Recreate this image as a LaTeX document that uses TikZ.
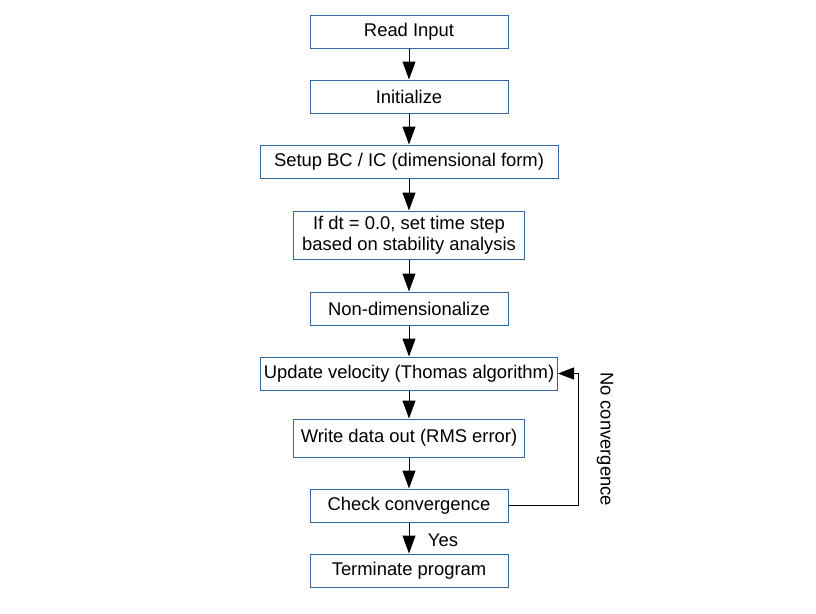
\documentclass[tikz,border=0pt]{standalone}
\usepackage{fontspec}
\setmainfont{Liberation Sans}
\usetikzlibrary{arrows.meta}
\definecolor{boxblue}{HTML}{3465A4}
\begin{document}
\begin{tikzpicture}[x=1pt,y=-1pt,
  box/.style={draw=boxblue,line width=1pt,fill=white,inner sep=0pt,align=center,
    font=\fontsize{18.4}{21}\selectfont},
  flow/.style={draw=black,line width=1pt,-{Triangle[length=18pt,width=13pt]}},
  lbl/.style={font=\fontsize{18.4}{21}\selectfont,inner sep=0pt}]
\fill[white] (0,0) rectangle (816,613);
\useasboundingbox (0,0) rectangle (816,613);
\node[box,minimum width=198pt,minimum height=33pt] (n1) at (409,31.5) {Read Input};
\node[box,minimum width=198pt,minimum height=33pt] (n2) at (409,96.5) {Initialize};
\node[box,minimum width=298pt,minimum height=33pt] (n3) at (409,161.5) {Setup BC / IC (dimensional form)};
\node[box,minimum width=231pt,minimum height=48pt] (n4) at (409,235) {If dt = 0.0, set time step\\based on stability analysis};
\node[box,minimum width=198pt,minimum height=33pt] (n5) at (409,308.5) {Non-dimensionalize};
\node[box,minimum width=297pt,minimum height=33pt] (n6) at (409,373.5) {Update velocity (Thomas algorithm)};
\node[box,minimum width=231pt,minimum height=38pt] (n7) at (409,438) {Write data out (RMS error)};
\node[box,minimum width=198pt,minimum height=33pt] (n8) at (409,505.5) {Check convergence};
\node[box,minimum width=198pt,minimum height=33pt] (n9) at (409,570.5) {Terminate program};
\draw[flow] (n1) -- (n2);
\draw[flow] (n2) -- (n3);
\draw[flow] (n3) -- (n4);
\draw[flow] (n4) -- (n5);
\draw[flow] (n5) -- (n6);
\draw[flow] (n6) -- (n7);
\draw[flow] (n7) -- (n8);
\draw[flow] (n8) -- (n9);
\draw[draw=black,line width=1pt,-{Triangle[length=16pt,width=12pt]}] (n8.east) -- ++(70,0) |- (n6.east);
\node[lbl,rotate=-90] (nolabel) at (605,439) {No convergence};
\node[lbl] (yes) at (443,540) {Yes};
\end{tikzpicture}
\end{document}
